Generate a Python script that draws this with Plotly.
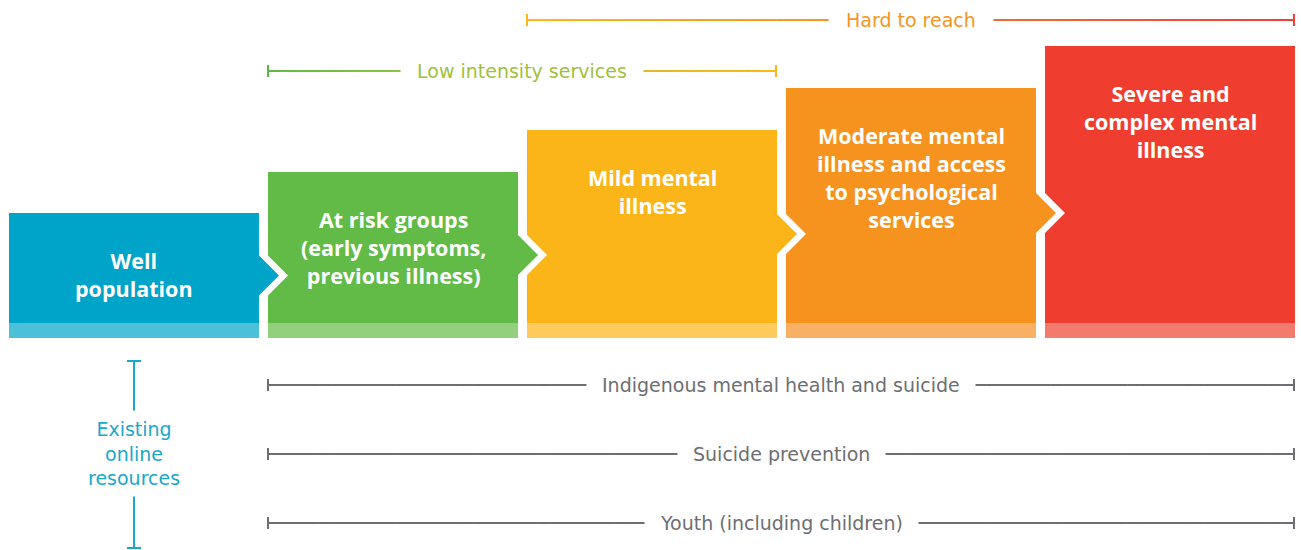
import plotly.graph_objects as go

# ---------------- data ----------------
stage_labels = [
    "Well<br>population",
    "At risk groups<br>(early symptoms,<br>previous illness)",
    "Mild mental<br>illness",
    "Moderate mental<br>illness and access<br>to psychological<br>services",
    "Severe and<br>complex mental<br>illness",
]
stage_heights = [125, 166, 208, 250, 292]

service_labels = ["Hard to reach", "Low intensity services"]
service_first_stage = [2, 1]
service_last_stage = [4, 2]

group_labels = ["Indigenous mental health and suicide", "Suicide prevention", "Youth (including children)"]
group_first_stage = [1, 1, 1]
group_last_stage = [4, 4, 4]

online_label = "Existing<br>online<br>resources"

# ---------------- style ----------------
stage_colors = ["#00a4c8", "#62bb47", "#fbb519", "#f6921e", "#ef3e2f"]
band_colors = ["#4cbfd9", "#92d07e", "#fdca5e", "#f8b065", "#f37b6e"]
service_rows = [318, 267]
group_rows = [-47, -116, -185]
service_grad = [
    [(0.0, "#fcb61a"), (0.39, "#f7941d"), (0.61, "#f26a33"), (1.0, "#ee4036")],
    [(0.0, "#5db946"), (0.26, "#8fc23f"), (0.74, "#e4b929"), (1.0, "#fdb913")],
]
service_text_colors = ["#f7941d", "#a2c03b"]
service_pads = [17, 16]
GRAY = "#6d6e71"
BLUE = "#1aa7cb"
BOLD_FONT = "Open Sans"
LABEL_FONT = "DejaVu Sans"

X0, W, GAP, D, BAND = 9, 250, 9, 20, 15


def left(i):
    return X0 + i * (W + GAP)


def right(i):
    return left(i) + W


def hex2rgb(h):
    h = h.lstrip("#")
    return tuple(int(h[k:k + 2], 16) for k in (0, 2, 4))


def grad_color(stops, t):
    for (t0, c0), (t1, c1) in zip(stops[:-1], stops[1:]):
        if t0 <= t <= t1:
            f = (t - t0) / (t1 - t0) if t1 > t0 else 0
            a, b = hex2rgb(c0), hex2rgb(c1)
            return "rgb(%d,%d,%d)" % tuple(round(a[k] + (b[k] - a[k]) * f) for k in range(3))
    return stops[-1][1]


fig = go.Figure()
annotations = []
shapes = []

n = len(stage_heights)
for i, h in enumerate(stage_heights):
    L, R = left(i), right(i)
    xs, ys = [L, L, R], [0, h, h]
    if i < n - 1:
        c = h / 2
        xs += [R, R + D, R]
        ys += [c + D, c, c - D]
    xs += [R]
    ys += [0]
    if i > 0:
        c = stage_heights[i - 1] / 2
        xs = [L, L, L + D, L] + xs[1:]
        ys = [0, c - D, c, c + D] + ys[1:]
    xs.append(xs[0])
    ys.append(ys[0])
    fig.add_trace(go.Scatter(x=xs, y=ys, fill="toself", fillcolor=stage_colors[i], mode="lines",
                             line=dict(width=0), hoverinfo="skip", showlegend=False))
    fig.add_trace(go.Scatter(x=[L, R, R, L, L], y=[0, 0, BAND, BAND, 0], fill="toself",
                             fillcolor=band_colors[i], mode="lines", line=dict(width=0),
                             hoverinfo="skip", showlegend=False))
    annotations.append(dict(x=(L + R) / 2, y=h - 31, text=stage_labels[i], showarrow=False,
                            xanchor="center", yanchor="top",
                            font=dict(family=BOLD_FONT, size=21.5, color="white", weight=700)))


def bracket(x0, x1, y, color_fn, label, text_color, pad):
    N = 80
    for k in range(N):
        xa = x0 + (x1 - x0) * k / N
        xb = x0 + (x1 - x0) * (k + 1) / N
        shapes.append(dict(type="line", xref="x", yref="y", x0=xa, x1=min(xb + 0.5, x1), y0=y, y1=y,
                           line=dict(color=color_fn((k + 0.5) / N), width=2)))
    shapes.append(dict(type="line", xref="x", yref="y", x0=x0, x1=x0, y0=y - 6, y1=y + 6,
                       line=dict(color=color_fn(0), width=2)))
    shapes.append(dict(type="line", xref="x", yref="y", x0=x1, x1=x1, y0=y - 6, y1=y + 6,
                       line=dict(color=color_fn(1), width=2)))
    annotations.append(dict(x=(x0 + x1) / 2, y=y, text=label, showarrow=False, xanchor="center",
                            yanchor="middle", bgcolor="white", borderpad=pad,
                            font=dict(family=LABEL_FONT, size=19, color=text_color)))


for j, lab in enumerate(service_labels):
    stops = service_grad[j]
    bracket(left(service_first_stage[j]), right(service_last_stage[j]) - 1, service_rows[j],
            lambda t, s=stops: grad_color(s, t), lab, service_text_colors[j], service_pads[j])

for j, lab in enumerate(group_labels):
    bracket(left(group_first_stage[j]), right(group_last_stage[j]) - 1, group_rows[j],
            lambda t: GRAY, lab, GRAY, 15)

# vertical bracket under the first stage
cx = (left(0) + right(0)) / 2
ytop, ybot = -23, -210
shapes.append(dict(type="line", xref="x", yref="y", x0=cx, x1=cx, y0=ytop, y1=ybot,
                   line=dict(color=BLUE, width=2)))
for yy in (ytop, ybot):
    shapes.append(dict(type="line", xref="x", yref="y", x0=cx - 7, x1=cx + 7, y0=yy, y1=yy,
                       line=dict(color=BLUE, width=2)))
annotations.append(dict(x=cx, y=(ytop + ybot) / 2 + 1, text=online_label, showarrow=False,
                        xanchor="center", yanchor="middle", bgcolor="white", borderpad=7,
                        font=dict(family=LABEL_FONT, size=19, color=BLUE)))

fig.update_layout(
    width=1301, height=550,
    margin=dict(l=0, r=0, t=0, b=0),
    paper_bgcolor="white", plot_bgcolor="white",
    xaxis=dict(range=[0, 1301], visible=False, fixedrange=True),
    yaxis=dict(range=[-212, 338], visible=False, fixedrange=True),
    shapes=shapes, annotations=annotations, showlegend=False,
    hovermode=False,
)

fig.write_html(
    "out.html",
    config={"displayModeBar": False, "staticPlot": True},
    post_script="document.body.style.margin='0';document.body.style.overflow='hidden';",
)
